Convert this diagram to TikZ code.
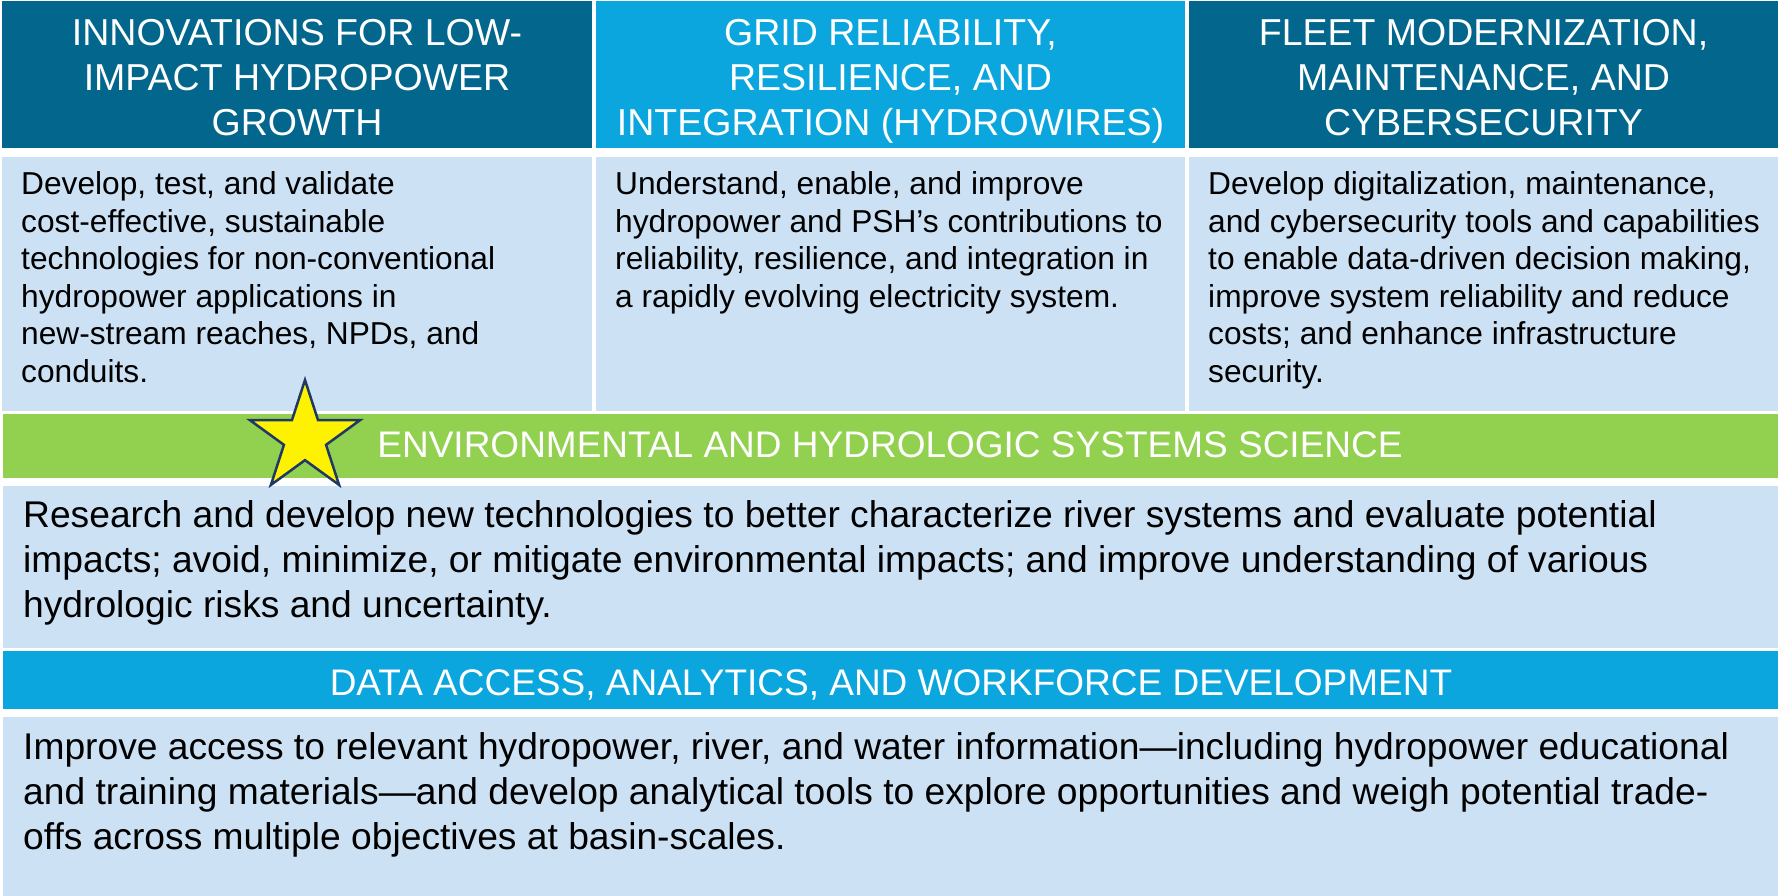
\documentclass[tikz,border=0pt]{standalone}
\usepackage{fontspec}
\setmainfont{Liberation Sans}
\usetikzlibrary{shapes.geometric}
\definecolor{hdark}{RGB}{3,102,140}
\definecolor{hbright}{RGB}{11,166,222}
\definecolor{bodyblue}{RGB}{204,225,244}
\definecolor{envgreen}{RGB}{146,208,80}
\definecolor{starline}{RGB}{31,56,100}
\begin{document}
\begin{tikzpicture}[x=1pt,y=-1pt,
  hdtext/.style={text=white, font=\fontsize{37.5}{45}\selectfont, align=center, inner sep=0pt, anchor=north},
  bodytext/.style={text=black, font=\fontsize{31.7}{37.5}\selectfont, align=left, inner sep=0pt, anchor=north west},
  widetext/.style={text=black, font=\fontsize{37.2}{45}\selectfont, align=left, inner sep=0pt, anchor=north west},
  bartext/.style={text=white, font=\fontsize{37}{45}\selectfont, inner sep=0pt, anchor=base},
  starshape/.style={star, star points=5, star point ratio=2.618, minimum size=116pt, inner sep=0pt, draw=starline, line width=2.5pt, fill=yellow}]
\fill[white] (0,0) rectangle (1778,896);
\useasboundingbox (0,0) rectangle (1778,896);
% header row
\fill[hdark] (2,1) rectangle (592,148);
\fill[hbright] (596,1) rectangle (1185,148);
\fill[hdark] (1189,1) rectangle (1778,148);
% body row
\fill[bodyblue] (2,157) rectangle (592,411);
\fill[bodyblue] (596,157) rectangle (1185,411);
\fill[bodyblue] (1189,157) rectangle (1778,411);
% environmental
\fill[envgreen] (3,414) rectangle (1778,478);
\fill[bodyblue] (3,486) rectangle (1778,648);
% data
\fill[hbright] (3,651) rectangle (1778,709);
\fill[bodyblue] (3,717) rectangle (1778,896);
% star
\node[starshape] (star) at (305,438) {};
% header texts
\node[hdtext] (h1) at (297,15) {\rule{0pt}{30pt}INNOVATIONS FOR LOW-\\IMPACT HYDROPOWER\\GROWTH};
\node[hdtext] (h2) at (890.5,15) {\rule{0pt}{30pt}GRID RELIABILITY,\\RESILIENCE, AND\\INTEGRATION (HYDROWIRES)};
\node[hdtext] (h3) at (1483.5,15) {\rule{0pt}{30pt}FLEET MODERNIZATION,\\MAINTENANCE, AND\\CYBERSECURITY};
% body texts
\node[bodytext] (b1) at (21,164.3) {\rule{0pt}{30pt}Develop, test, and validate\\cost-effective, sustainable\\technologies for non-conventional\\hydropower applications in\\new-stream reaches, NPDs, and\\conduits.};
\node[bodytext] (b2) at (615,164.3) {\rule{0pt}{30pt}Understand, enable, and improve\\hydropower and PSH’s contributions to\\reliability, resilience, and integration in\\a rapidly evolving electricity system.};
\node[bodytext] (b3) at (1208,164.3) {\rule{0pt}{30pt}Develop digitalization, maintenance,\\and cybersecurity tools and capabilities\\to enable data-driven decision making,\\improve system reliability and reduce\\costs; and enhance infrastructure\\security.};
% environmental texts
\node[bartext] (envh) at (890,457.7) {ENVIRONMENTAL AND HYDROLOGIC SYSTEMS SCIENCE};
\node[widetext] (envb) at (23,497.3) {\rule{0pt}{30pt}Research and develop new technologies to better characterize river systems and evaluate potential\\impacts; avoid, minimize, or mitigate environmental impacts; and improve understanding of various\\hydrologic risks and uncertainty.};
% data texts
\node[bartext] (datah) at (891,695) {DATA ACCESS, ANALYTICS, AND WORKFORCE DEVELOPMENT};
\node[widetext] (datab) at (23,729) {\rule{0pt}{30pt}Improve access to relevant hydropower, river, and water information—including hydropower educational\\and training materials—and develop analytical tools to explore opportunities and weigh potential trade-\\offs across multiple objectives at basin-scales.};
\end{tikzpicture}
\end{document}
